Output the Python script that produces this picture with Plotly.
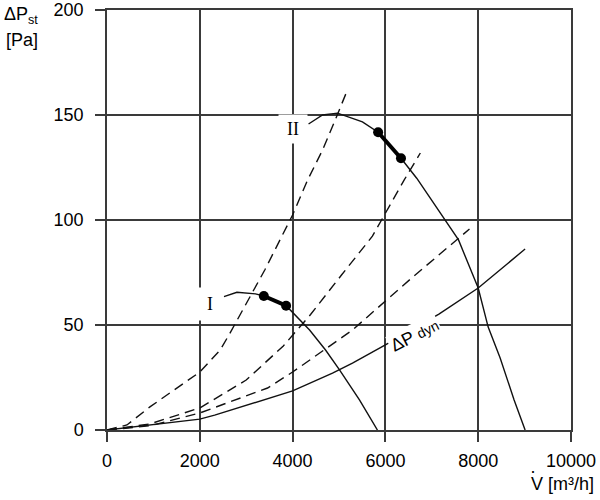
import plotly.graph_objects as go

# ---------------- data ----------------
# Fan curve I  (V in m3/h, dP in Pa)
fan1_x = [2520, 2800, 3200, 3380, 3860, 4215, 4366, 4710, 5011, 5441, 5828]
fan1_y = [63.5, 65.6, 64.8, 63.8, 59.2, 51.0, 47.6, 38.1, 28.6, 14.3, 0]
op1_x = [3380, 3860]
op1_y = [63.8, 59.2]

# Fan curve II
fan2_x = [4344, 4645, 4968, 5505, 5843, 6336, 6675, 7294, 7576, 8000, 8215, 8473, 8774, 9011]
fan2_y = [145.7, 150.0, 150.9, 146.7, 141.8, 129.4, 119.9, 100.0, 90.5, 67.6, 49.0, 34.3, 14.3, 0]
op2_x = [5843, 6336]
op2_y = [141.8, 129.4]

# System curves (dashed)
sys1_x = [0, 430, 925, 2000, 2440, 2660, 3400, 4000, 4323, 4645, 4925, 5183]
sys1_y = [0, 2.4, 11.0, 27.6, 38.1, 46.5, 76.2, 102.4, 119.0, 133.3, 148.0, 162.0]
sys2_x = [0, 925, 2000, 3000, 3800, 4000, 4387, 5054, 5720, 6400, 6753]
sys2_y = [0, 2.9, 10.5, 23.8, 40.0, 45.0, 55.0, 73.8, 92.3, 118.9, 131.9]
sys3_x = [0, 925, 2000, 3460, 4000, 5290, 6588, 7812]
sys3_y = [0, 2.0, 8.1, 20.0, 27.6, 47.6, 72.8, 95.7]

# Dynamic pressure
dyn_x = [0, 2000, 2320, 4000, 4860, 5290, 6000, 7153, 8000, 9011]
dyn_y = [0, 5.2, 7.1, 18.6, 27.1, 31.9, 40.5, 55.2, 67.6, 86.2]

x_ticks = [0, 2000, 4000, 6000, 8000, 10000]
y_ticks = [0, 50, 100, 150, 200]

# ---------------- figure ----------------
LINE = "#111111"
GRID = "#3a3a3a"
SANS = "Liberation Sans, Arial, sans-serif"
SERIF = "Liberation Serif, Times New Roman, serif"
DASH = "10px,6px"

fig = go.Figure()
for xs, ys in [(sys1_x, sys1_y), (sys2_x, sys2_y), (sys3_x, sys3_y)]:
    fig.add_trace(go.Scatter(x=xs, y=ys, mode="lines",
                             line=dict(color=LINE, width=1.4, dash=DASH)))
fig.add_trace(go.Scatter(x=dyn_x, y=dyn_y, mode="lines", line=dict(color=LINE, width=1.4)))
fig.add_trace(go.Scatter(x=fan1_x, y=fan1_y, mode="lines", line=dict(color=LINE, width=1.4)))
fig.add_trace(go.Scatter(x=fan2_x, y=fan2_y, mode="lines", line=dict(color=LINE, width=1.4)))
for xs, ys in [(op1_x, op1_y), (op2_x, op2_y)]:
    fig.add_trace(go.Scatter(x=xs, y=ys, mode="lines+markers",
                             line=dict(color="black", width=4),
                             marker=dict(color="black", size=10)))

axis_common = dict(
    showgrid=True, gridcolor=GRID, gridwidth=1.5,
    showline=True, linecolor=GRID, linewidth=1.5, mirror=True,
    ticks="outside", ticklen=10, tickwidth=1.5, tickcolor=GRID,
    zeroline=False, automargin=False,
    tickfont=dict(family=SANS, size=18, color="black"),
)
fig.update_xaxes(range=[0, 10000], tickvals=x_ticks,
                 ticktext=[str(v) for v in x_ticks], ticklabelstandoff=4, **axis_common)
fig.update_yaxes(range=[0, 200], tickvals=y_ticks,
                 ticktext=[str(v) for v in y_ticks], ticklabelstandoff=8, **axis_common)

txt = dict(family=SANS, size=18, color="black")
annos = [
    dict(x=2220, y=60, xref="x", yref="y", text="I", showarrow=False, width=24, height=30,
         font=dict(family=SERIF, size=18, color="black"), bgcolor="white"),
    dict(x=4000, y=143.5, xref="x", yref="y", text="II", showarrow=False, width=26, height=26,
         font=dict(family=SERIF, size=18, color="black"), bgcolor="white"),
    dict(x=6635, y=45.2, xref="x", yref="y",
         text="ΔP <span style='font-size:14px'>dyn</span>", showarrow=False,
         textangle=-27, font=txt, bgcolor="white"),
    dict(x=-0.226, y=0.988, xref="paper", yref="paper", xanchor="left", yanchor="middle",
         text="ΔP<sub>st</sub>", showarrow=False, font=txt),
    dict(x=-0.222, y=0.929, xref="paper", yref="paper", xanchor="left", yanchor="middle",
         text="[Pa]", showarrow=False, font=txt),
    dict(x=1.054, y=-0.128, xref="paper", yref="paper", xanchor="right", yanchor="middle",
         text="V [m³/h]", showarrow=False, font=txt),
    dict(x=0.918, y=-0.098, xref="paper", yref="paper", xanchor="center", yanchor="middle",
         text="·", showarrow=False, font=dict(family=SANS, size=18, color="black")),
]

fig.update_layout(
    width=600, height=500,
    margin=dict(l=107, r=29, t=10, b=70, autoexpand=False),
    paper_bgcolor="white", plot_bgcolor="white",
    showlegend=False, annotations=annos,
)

fig.write_html("out.html")
